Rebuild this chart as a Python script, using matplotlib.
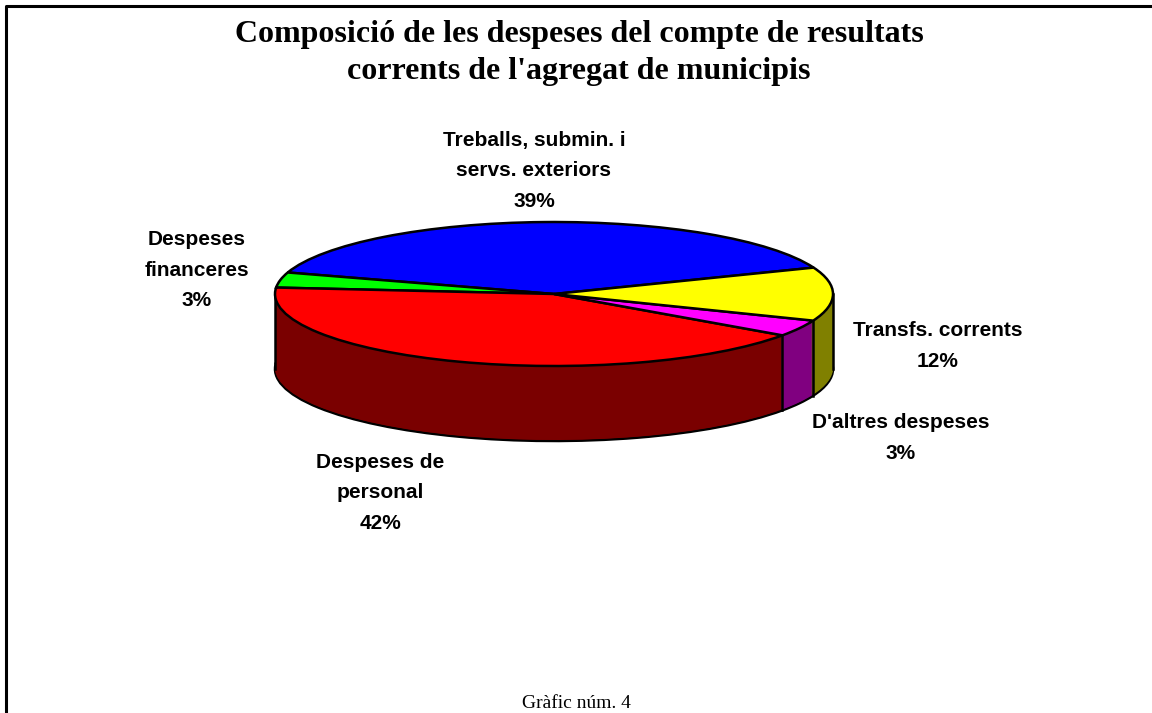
import numpy as np
from matplotlib import pyplot as plt
from matplotlib.transforms import Affine2D

plt.rcParams['font.family'] = ['Liberation Sans', 'DejaVu Sans']

categories = ["Treballs, submin. i\nservs. exteriors", "Despeses\nfinanceres", "Despeses de\npersonal",
              "D'altres despeses", "Transfs. corrents"]
values = [39.2, 3.4, 41.7, 3.7, 12.0]
percents = ["39%", "3%", "42%", "3%", "12%"]
top_colors = ["#0000ff", "#00ff00", "#ff0000", "#ff00ff", "#ffff00"]
side_colors = ["#000080", "#008000", "#7a0000", "#800080", "#808000"]

W, H = 1152, 713
fig = plt.figure(figsize=(W / 100, H / 100), dpi=100)
# axes cover the whole figure, in picture pixels
ax = fig.add_axes([0, 0, 1, 1])

cx, cy = 554, 294
rx, ry = 279, 72
depth = 75
start = 21.5


def draw_pie(center_y, colors, edge, z):
    # pie in a circle, then squashed to an ellipse by a transform
    wedges, _ = ax.pie(values, colors=colors, startangle=start, radius=1, frame=True,
                       wedgeprops={"edgecolor": edge, "linewidth": 1.8 if edge != "none" else 0})
    squash = Affine2D().scale(rx, -ry).translate(cx, center_y) + ax.transData
    for w in wedges:
        w.set_transform(squash)
        w.set_zorder(z)


# side wall: stack of dark copies going down, black outline only on the bottom one
draw_pie(cy + depth, side_colors, "black", 1)
for d in range(depth - 1, 0, -1):
    draw_pie(cy + d, side_colors, "none", 2 + (depth - d) * 0.001)

# vertical edges of the wall
ax.plot([cx - rx, cx - rx], [cy, cy + depth], color="black", lw=1.8, zorder=3)
ax.plot([cx + rx, cx + rx], [cy, cy + depth], color="black", lw=1.8, zorder=3)
# the two borders that show on the front of the wall (red/pink and pink/yellow)
borders = start + np.cumsum(values) * 3.6
for angle in borders[2:4]:
    x = cx + rx * np.cos(np.radians(angle))
    y = cy - ry * np.sin(np.radians(angle))
    ax.plot([x, x], [y, y + depth], color="black", lw=1.8, zorder=3)

draw_pie(cy, top_colors, "black", 4)

ax.set_xlim(0, W)
ax.set_ylim(H, 0)
ax.set_aspect("auto")
ax.axis("off")

# page frame, only left and top
ax.plot([6, 6, W], [H, 6, 6], color="black", lw=2.2, zorder=5)

ax.text(579, 53, "Composició de les despeses del compte de resultats\ncorrents de l'agregat de municipis",
        family="Liberation Serif", fontsize=23, fontweight="bold", ha="center", va="center", linespacing=1.32)
ax.text(576, 703, "Gràfic núm. 4", family="Liberation Serif", fontsize=14, ha="center", va="center")

label_pos = [(534, 171), (197, 270), (380, 493), (901, 438), (938, 346)]
for name, pct, (x, y) in zip(categories, percents, label_pos):
    ax.text(x, y, name + "\n" + pct, fontsize=15, fontweight="bold", ha="center", va="center",
            linespacing=1.78, color="black")

fig.savefig("out.png", dpi=100)
